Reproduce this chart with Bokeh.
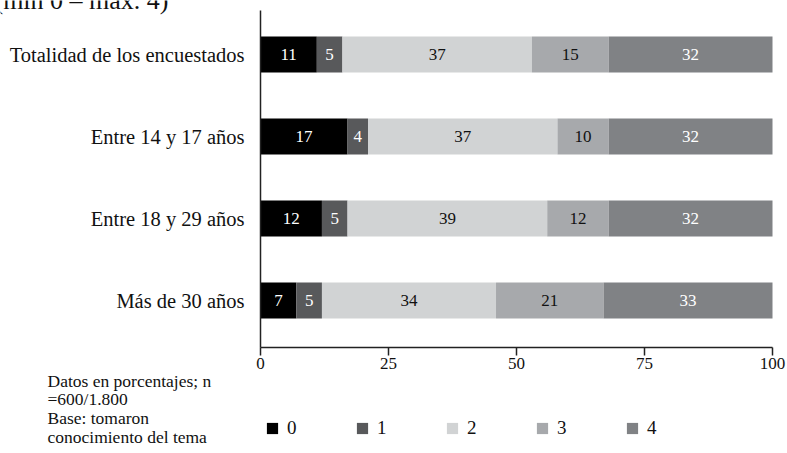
from bokeh.plotting import figure
from bokeh.models import Range1d, FixedTicker, Label, ColumnDataSource
from bokeh.core.properties import value
from bokeh.embed import file_html
from bokeh.resources import INLINE

# Survey groups (top to bottom) and the knowledge-score levels
groups = ["Totalidad de los encuestados", "Entre 14 y 17 años",
          "Entre 18 y 29 años", "Más de 30 años"]
levels = ["0", "1", "2", "3", "4"]

# Percentages per level, one entry per group
v0 = [11, 17, 12, 7]
v1 = [5, 4, 5, 5]
v2 = [37, 37, 39, 34]
v3 = [15, 10, 12, 21]
v4 = [32, 32, 32, 33]

x_ticks = [0, 25, 50, 75, 100]
notes = ["Datos en porcentajes; n", "=600/1.800", "Base: tomaron", "conocimiento del tema"]
scale_note = "(mín 0 – máx. 4)"

colors = ["#000000", "#58595b", "#d1d3d4", "#a7a9ac", "#808285"]
value_colors = ["#ffffff", "#ffffff", "#111111", "#111111", "#ffffff"]
FONT = "Liberation Serif"
AXIS_COLOR = "#222222"

series = [v0, v1, v2, v3, v4]
pos = list(range(len(groups)))

data = {"pos": pos}
for name, vals in zip(levels, series):
    data[name] = vals
src = ColumnDataSource(data)

# The plotting frame fills the whole page; the axes sit at fixed data
# positions so that notes and legend can live inside the frame below them.
W, H = 787, 453
X0, X1 = 260, 772          # pixel span of 0..100
ROW0, ROW_STEP = 54, 82     # first row centre and row spacing (px)
TOP, BOTTOM = 10, 347       # vertical extent of the value axis
ppx = (X1 - X0) / 100.0
x_range = Range1d(-X0 / ppx, 100 + (W - X1) / ppx)
y_range = Range1d((H - ROW0) / ROW_STEP, -ROW0 / ROW_STEP)
y_axis_top = (TOP - ROW0) / ROW_STEP
y_axis_bottom = (BOTTOM - ROW0) / ROW_STEP

p = figure(width=W, height=H, output_backend="svg", toolbar_location=None,
           x_range=x_range, y_range=y_range, min_border=0)
p.outline_line_color = None
p.xgrid.visible = False
p.ygrid.visible = False

p.hbar_stack(levels, y="pos", height=0.44, color=colors, line_width=0,
             source=src, legend_label=levels)

# value labels centred inside each segment
for i, vals in enumerate(series):
    left = [sum(s[j] for s in series[:i]) for j in range(len(groups))]
    centers = [l + v / 2 for l, v in zip(left, vals)]
    p.text(x=centers, y=pos, text=[str(v) for v in vals],
           text_align="center", text_baseline="middle",
           text_color=value_colors[i], text_font=value(FONT),
           text_font_size="17px")

# axis lines limited to the data area
p.segment(x0=[x_ticks[0]], y0=[y_axis_top], x1=[x_ticks[0]], y1=[y_axis_bottom],
          line_color=AXIS_COLOR, line_width=1.5)
p.segment(x0=[x_ticks[0]], y0=[y_axis_bottom], x1=[x_ticks[-1]], y1=[y_axis_bottom],
          line_color=AXIS_COLOR, line_width=1.5)

# category axis
p.yaxis.fixed_location = x_ticks[0]
p.yaxis.ticker = FixedTicker(ticks=pos)
p.yaxis.major_label_overrides = {i: g for i, g in enumerate(groups)}
p.yaxis.axis_line_color = None
p.yaxis.major_tick_out = 0
p.yaxis.major_tick_in = 0
p.yaxis.minor_tick_line_color = None
p.yaxis.major_label_standoff = 16
p.yaxis.major_label_text_font = FONT
p.yaxis.major_label_text_font_size = "20.5px"
p.yaxis.major_label_text_color = "#111111"

# percentage axis
p.xaxis.fixed_location = y_axis_bottom
p.xaxis.ticker = FixedTicker(ticks=x_ticks, minor_ticks=[])
p.xaxis.axis_line_color = None
p.xaxis.major_tick_out = 8
p.xaxis.major_tick_in = 0
p.xaxis.major_tick_line_color = AXIS_COLOR
p.xaxis.major_tick_line_width = 1.5
p.xaxis.major_label_standoff = 2
p.xaxis.major_label_text_font = FONT
p.xaxis.major_label_text_font_size = "17px"
p.xaxis.major_label_text_color = "#111111"

# legend in a single row under the axis
lg = p.legend[0]
lg.orientation = "horizontal"
lg.location = (265, 14)
lg.border_line_color = None
lg.background_fill_alpha = 0
lg.padding = 0
lg.margin = 0
lg.spacing = 58
lg.glyph_width = 14
lg.glyph_height = 14
lg.label_width = 10
lg.label_height = 14
lg.label_standoff = 8
lg.label_text_font = FONT
lg.label_text_font_size = "19px"
lg.label_text_color = "#111111"

# scale note at the top edge of the page
p.add_layout(Label(x=168, y=H, x_units="screen", y_units="screen",
                   text=scale_note, text_align="right", text_baseline="alphabetic",
                   text_font=FONT, text_font_size="26px", text_color="#111111"))

# data notes under the chart
for line, base in zip(notes, [385, 403, 422, 441]):
    p.add_layout(Label(x=47, y=H - base + 5, x_units="screen", y_units="screen",
                       text=line, text_align="left", text_baseline="alphabetic",
                       text_font=FONT, text_font_size="17.5px", text_color="#111111"))

open("out.html", "w").write(file_html(p, INLINE))
